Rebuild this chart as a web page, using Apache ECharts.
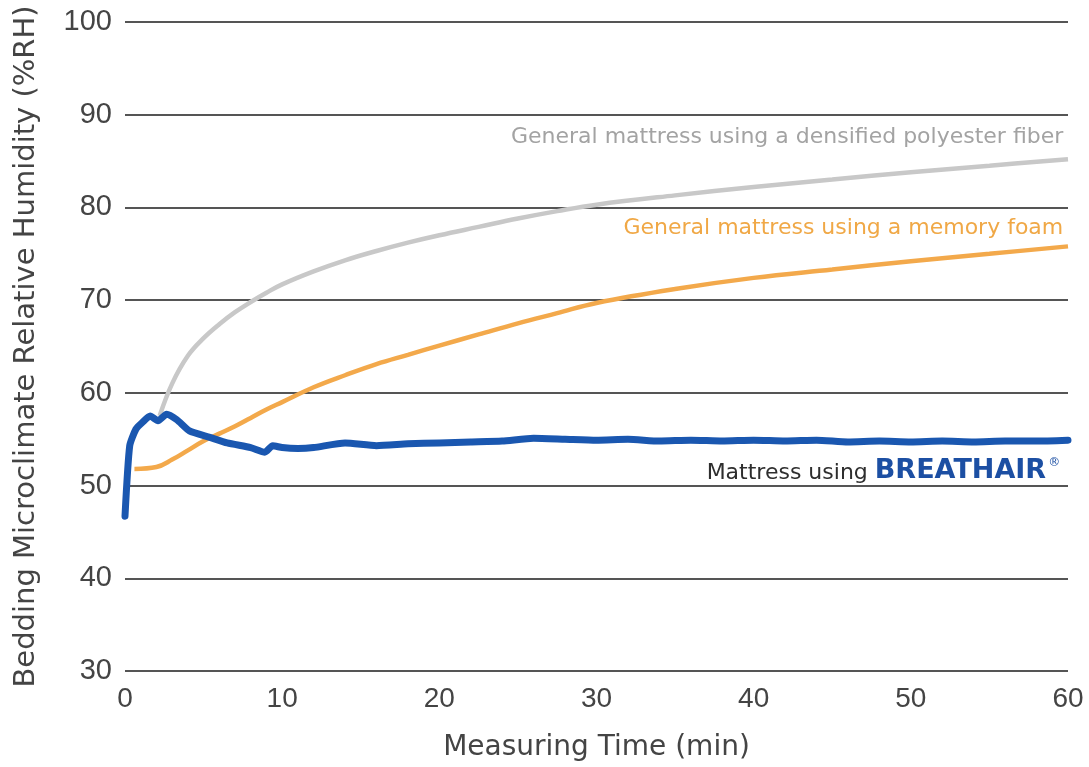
<!DOCTYPE html>
<html>
<head>
<meta charset="utf-8">
<script src="https://cdn.jsdelivr.net/npm/echarts@6/dist/echarts.min.js"></script>
<style>
html,body{margin:0;padding:0;background:#fff;}
#main{width:1089px;height:767px;}
</style>
</head>
<body>
<div id="main"></div>
<script>
// ---- data ----
var xTicks = [0, 10, 20, 30, 40, 50, 60];
var yTicks = [30, 40, 50, 60, 70, 80, 90, 100];

var polyesterTime = [2.2, 3, 4, 5, 6, 7, 8, 9, 10, 12, 14, 16, 18, 20, 22.5, 25, 27.5, 30, 35, 40, 45, 50, 55, 60];
var polyesterRH   = [57.5, 61, 64.0, 65.9, 67.4, 68.7, 69.8, 70.8, 71.7, 73.1, 74.3, 75.3, 76.2, 77.0, 77.9, 78.8, 79.6, 80.3, 81.3, 82.2, 83.0, 83.8, 84.5, 85.2];

var foamTime = [0.6, 2, 3, 4, 5, 6, 7, 8, 9, 10, 12, 14, 16, 18, 20, 22.5, 25, 27.5, 30, 35, 40, 45, 50, 55, 60];
var foamRH   = [51.8, 52.0, 52.8, 53.8, 54.8, 55.6, 56.4, 57.3, 58.2, 59.0, 60.6, 61.9, 63.1, 64.1, 65.1, 66.3, 67.5, 68.6, 69.7, 71.2, 72.4, 73.3, 74.2, 75.0, 75.8];

var breathTime = [0, 0.3, 0.7, 1.1, 1.6, 2.1, 2.65, 3.3, 4.1, 5.4, 6.5, 8, 8.9, 9.4, 10, 11, 12, 14, 16, 18, 20, 22, 24, 26, 28, 30, 32, 34, 36, 38, 40, 42, 44, 46, 48, 50, 52, 54, 56, 58, 60];
var breathRH   = [46.7, 54.3, 56.1, 56.8, 57.5, 57.0, 57.7, 57.1, 55.9, 55.2, 54.6, 54.1, 53.6, 54.3, 54.1, 54.0, 54.1, 54.6, 54.3, 54.5, 54.6, 54.7, 54.8, 55.1, 55.0, 54.9, 55.0, 54.8, 54.9, 54.8, 54.9, 54.8, 54.9, 54.7, 54.8, 54.7, 54.8, 54.7, 54.8, 54.8, 54.9];

var seriesNames = ['General mattress using a densified polyester fiber', 'General mattress using a memory foam', 'Mattress using BREATHAIR'];
var xAxisTitle = 'Measuring Time (min)';
var yAxisTitle = 'Bedding Microclimate Relative Humidity (%RH)';

function pairs(t, v) { return t.map(function (x, i) { return [x, v[i]]; }); }

var FONT = 'DejaVu Sans';
var TICKFONT = 'Liberation Sans';
var chart = echarts.init(document.getElementById('main'));
chart.setOption({
  backgroundColor: '#ffffff',
  animation: false,
  grid: { left: 125, right: 21, top: 22, bottom: 95 },
  xAxis: {
    type: 'value', min: xTicks[0], max: xTicks[xTicks.length - 1], interval: 10,
    name: xAxisTitle, nameLocation: 'middle', nameGap: 63,
    nameTextStyle: { fontFamily: FONT, fontSize: 28, color: '#444' },
    axisLine: { show: false },
    axisTick: { show: false },
    splitLine: { show: false },
    axisLabel: { fontFamily: TICKFONT, fontSize: 28, color: '#444', margin: 14 }
  },
  yAxis: {
    type: 'value', min: yTicks[0], max: yTicks[yTicks.length - 1], interval: 10,
    name: yAxisTitle, nameLocation: 'middle', nameGap: 84, nameRotate: 90,
    nameTextStyle: { fontFamily: FONT, fontSize: 29, color: '#444' },
    axisLine: { show: false },
    axisTick: { show: false },
    splitLine: { show: true, lineStyle: { color: '#555555', width: 2 } },
    axisLabel: { fontFamily: TICKFONT, fontSize: 29, color: '#444', margin: 13 }
  },
  series: [
    {
      name: seriesNames[0], type: 'line', data: pairs(polyesterTime, polyesterRH),
      showSymbol: false, smooth: 0.4, z: 2,
      lineStyle: { color: '#c8c8c8', width: 4.5 }
    },
    {
      name: seriesNames[1], type: 'line', data: pairs(foamTime, foamRH),
      showSymbol: false, smooth: 0.4, z: 3,
      lineStyle: { color: '#f3a94b', width: 4.5 }
    },
    {
      name: seriesNames[2], type: 'line', data: pairs(breathTime, breathRH),
      showSymbol: false, smooth: 0.2, z: 4,
      lineStyle: { color: '#1a57b0', width: 7, cap: 'round', join: 'round' }
    }
  ]
});

var pRight = chart.convertToPixel({ gridIndex: 0 }, [59.7, 87.6]);
var pFoam = chart.convertToPixel({ gridIndex: 0 }, [59.7, 77.7]);
var pBreath = chart.convertToPixel({ gridIndex: 0 }, [59.5, 51.6]);
chart.setOption({
  graphic: [
    {
      type: 'text', x: pRight[0], y: pRight[1],
      style: { text: seriesNames[0], fontFamily: FONT, fontSize: 22, fill: '#a3a3a3', align: 'right', verticalAlign: 'middle' }
    },
    {
      type: 'text', x: pFoam[0], y: pFoam[1],
      style: { text: seriesNames[1], fontFamily: FONT, fontSize: 22, fill: '#f0a846', align: 'right', verticalAlign: 'middle' }
    },
    {
      type: 'text', x: pBreath[0], y: pBreath[1],
      style: {
        text: '{a|Mattress using }{b|BREATHAIR}{c|®}',
        align: 'right', verticalAlign: 'middle',
        rich: {
          a: { fontFamily: FONT, fontSize: 22, fill: '#2e2e2e', color: '#2e2e2e', verticalAlign: 'bottom' },
          b: { fontFamily: FONT, fontSize: 27, fontWeight: 'bold', fill: '#1c4fa3', color: '#1c4fa3' },
          c: { fontFamily: FONT, fontSize: 12, fill: '#1c4fa3', color: '#1c4fa3', verticalAlign: 'top', padding: [0, 0, 14, 2] }
        }
      }
    }
  ]
});
</script>
</body>
</html>
